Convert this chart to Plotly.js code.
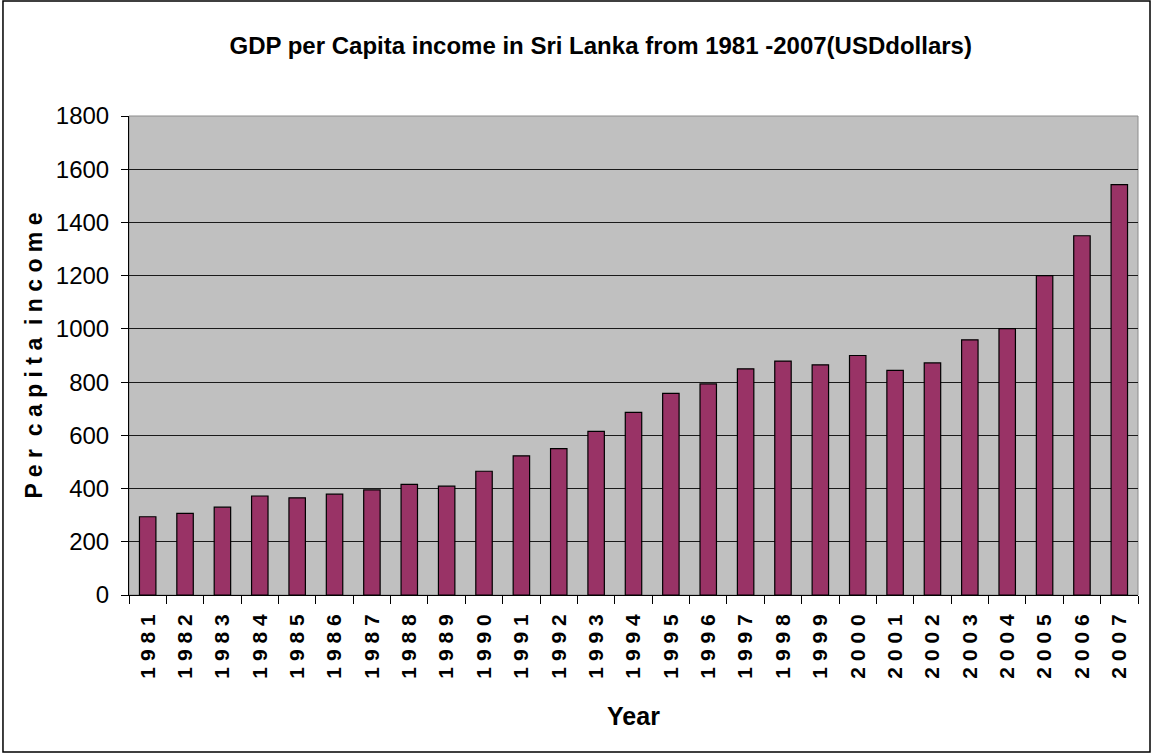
<!DOCTYPE html>
<html>
<head>
<meta charset="utf-8">
<script src="https://cdn.plot.ly/plotly-3.0.1.min.js"></script>
<style>
  html, body { margin: 0; padding: 0; background: #ffffff; }
  #chart { width: 1153px; height: 755px; }
</style>
</head>
<body>
<div id="chart"></div>
<script>
// ---- data ----
const years = ["1981","1982","1983","1984","1985","1986","1987","1988","1989","1990",
               "1991","1992","1993","1994","1995","1996","1997","1998","1999","2000",
               "2001","2002","2003","2004","2005","2006","2007"];
const gdpPerCapita = [294, 307, 330, 372, 365, 379, 395, 416, 409, 465,
                      523, 550, 615, 686, 758, 793, 850, 879, 865, 900,
                      844, 872, 959, 1001, 1200, 1350, 1542];
const yTickValues = [0, 200, 400, 600, 800, 1000, 1200, 1400, 1600, 1800];
const chartTitle = "GDP per Capita income in Sri Lanka from 1981 -2007(USDdollars)";
const xTitle = "Year";
const yTitle = "P e r\u00a0 c a p i t a\u00a0 i n c o m e";

const arial = "'Liberation Sans', Arial, sans-serif";

const trace = {
  type: "bar",
  x: years,
  y: gdpPerCapita,
  marker: { color: "#993366", line: { color: "#000000", width: 1.2 } },
  hoverinfo: "x+y"
};

const layout = {
  width: 1153,
  height: 755,
  margin: { l: 129, r: 15, t: 116, b: 160 },
  paper_bgcolor: "#ffffff",
  plot_bgcolor: "#c0c0c0",
  bargap: 0.56,
  showlegend: false,
  title: {
    text: "<b>" + chartTitle + "</b>",
    font: { family: arial, size: 24, color: "#000000" },
    xref: "container", x: 0.521, xanchor: "center",
    yref: "container", y: 0.94, yanchor: "middle"
  },
  xaxis: {
    type: "category",
    tickmode: "array",
    tickvals: years,
    ticktext: years.map(y => y.split("").join(" ")),
    tickangle: -90,
    tickfont: { family: arial, size: 21, color: "#000000", weight: "bold" },
    ticks: "outside",
    tickson: "boundaries",
    ticklen: 8,
    tickcolor: "#000000",
    ticklabelstandoff: 10,
    showline: true,
    linecolor: "#000000",
    linewidth: 1,
    showgrid: false,
    automargin: false,
    title: {
      text: "<b>" + xTitle + "</b>",
      font: { family: arial, size: 25, color: "#000000" },
      standoff: 29
    }
  },
  yaxis: {
    range: [0, 1800],
    tickmode: "array",
    tickvals: yTickValues,
    ticktext: yTickValues.map(String),
    tickfont: { family: arial, size: 24, color: "#000000" },
    ticks: "outside",
    ticklen: 7,
    tickcolor: "#000000",
    ticklabelstandoff: 7,
    showline: true,
    linecolor: "#000000",
    linewidth: 1,
    showgrid: true,
    gridcolor: "#1a1a1a",
    gridwidth: 1,
    zeroline: false,
    automargin: false,
    title: {
      text: "<b>" + yTitle + "</b>",
      font: { family: arial, size: 23, color: "#000000" },
      standoff: 6
    }
  },
  shapes: [
    {
      type: "rect", xref: "paper", yref: "paper", layer: "below",
      x0: 0, x1: 1, y0: 0, y1: 1,
      line: { color: "#8c8c8c", width: 1 }
    },
    {
      type: "rect", xref: "paper", yref: "paper",
      x0: -0.1249, x1: 1.0119, y0: -0.3278, y1: 1.240,
      line: { color: "#000000", width: 1.5 }
    }
  ]
};

Plotly.newPlot("chart", [trace], layout, { displayModeBar: false, responsive: false });
</script>
</body>
</html>
